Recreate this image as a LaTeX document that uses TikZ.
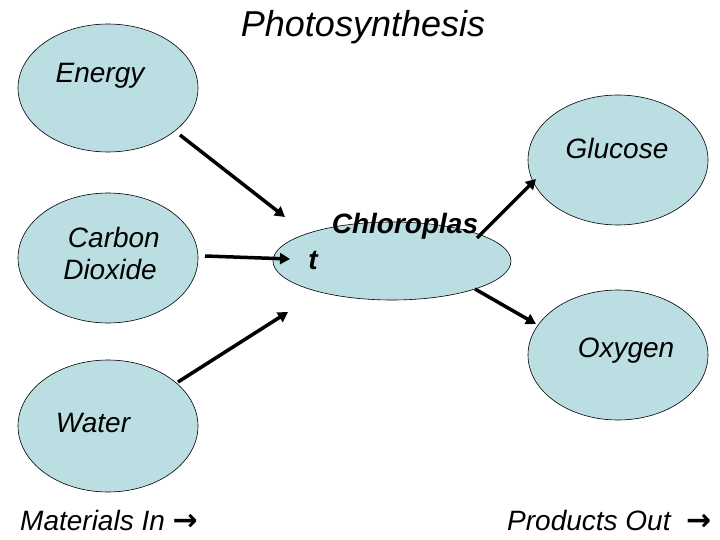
\documentclass[tikz,border=0pt]{standalone}
\usepackage{fontspec}
\setmainfont{Liberation Sans}
\newfontfamily\arrowfont{DejaVu Sans}
\usetikzlibrary{shapes.geometric,arrows.meta}
\definecolor{cellblue}{RGB}{187,222,227}
\tikzset{
  blob/.style={ellipse,draw=black,line width=0.6pt,fill=cellblue,inner sep=0pt},
  lbl/.style={font=\fontsize{28}{32}\selectfont\itshape,inner sep=0pt,anchor=center},
  flow/.style={line width=3.5pt,-{Triangle[length=10pt,width=11pt]}}
}
\begin{document}
\begin{tikzpicture}[x=1pt,y=-1pt]
\useasboundingbox (0,0) rectangle (720,540);
% ellipses
\node[blob,minimum width=180pt,minimum height=128pt] (energy) at (108,88) {};
\node[blob,minimum width=180pt,minimum height=130pt] (co2) at (108,258) {};
\node[blob,minimum width=180pt,minimum height=132pt] (water) at (108,426) {};
\node[blob,minimum width=180pt,minimum height=130pt] (glucose) at (618,160) {};
\node[blob,minimum width=180pt,minimum height=130pt] (oxygen) at (618,355) {};
\node[blob,minimum width=238pt,minimum height=78pt] (chloro) at (392,261) {};
% texts
\node[font=\fontsize{36}{40}\selectfont\itshape,inner sep=0pt] (title) at (363,27) {Photosynthesis};
\node[lbl] (tenergy) at (100,76) {Energy};
\node[lbl,align=center] (tco2) at (110,253) {\ Carbon\\Dioxide};
\node[lbl] (twater) at (93,423) {Water};
\node[lbl] (tglucose) at (617,148) {Glucose};
\node[lbl] (toxygen) at (626,351) {Oxygen};
\node[lbl,font=\fontsize{28}{30}\selectfont\bfseries\itshape] (tchloro1) at (405,226) {Chloroplas};
\node[lbl,font=\fontsize{28}{30}\selectfont\bfseries\itshape] (tchloro2) at (313,260) {t};
\node[lbl,anchor=west] (tin) at (20,520) {Materials In {\arrowfont\bfseries\upshape\fontsize{30}{30}\selectfont →}};
\node[lbl,anchor=west] (tout) at (507,520) {Products Out \ {\arrowfont\bfseries\upshape\fontsize{30}{30}\selectfont →}};
% arrow ends
\coordinate (e1) at (180,135);
\coordinate (e2) at (285,217);
\coordinate (c1) at (205,256);
\coordinate (c2) at (290,259);
\coordinate (w1) at (178,382);
\coordinate (w2) at (288,312);
\coordinate (g1) at (477,238);
\coordinate (g2) at (536,179);
\coordinate (o1) at (475,289);
\coordinate (o2) at (536,324);
\draw[flow] (e1) -- (e2);
\draw[flow] (c1) -- (c2);
\draw[flow] (w1) -- (w2);
\draw[flow] (g1) -- (g2);
\draw[flow] (o1) -- (o2);
\end{tikzpicture}
\end{document}
